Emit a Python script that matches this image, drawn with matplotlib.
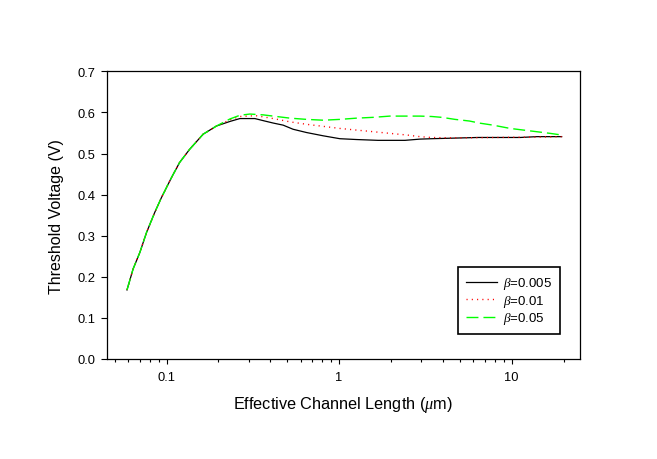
import matplotlib
matplotlib.use("Agg")
import matplotlib.pyplot as plt
from matplotlib.ticker import LogLocator, FixedLocator, NullFormatter, FixedFormatter

plt.rcParams['font.family'] = ['Liberation Sans', 'DejaVu Sans']
plt.rcParams['mathtext.fontset'] = 'custom'
plt.rcParams['mathtext.it'] = 'Liberation Serif:italic'
plt.rcParams['mathtext.rm'] = 'Liberation Sans'
plt.rcParams['lines.scale_dashes'] = False

# ---- data ----
L_005 = [0.059, 0.064, 0.070, 0.0766, 0.0855, 0.0935, 0.107, 0.119, 0.136, 0.163, 0.195,
         0.233, 0.266, 0.325, 0.371, 0.416, 0.474, 0.541, 0.648, 0.81, 1.01, 1.26, 1.68,
         2.41, 2.94, 3.45, 6.4, 11.2, 14.0, 19.5]
V_005 = [0.168, 0.219, 0.259, 0.308, 0.357, 0.393, 0.442, 0.478, 0.510, 0.547, 0.567,
         0.578, 0.585, 0.585, 0.579, 0.574, 0.569, 0.559, 0.551, 0.543, 0.536, 0.534, 0.532,
         0.532, 0.535, 0.536, 0.539, 0.539, 0.541, 0.541]

L_01 = [0.059, 0.064, 0.070, 0.0766, 0.0855, 0.0935, 0.107, 0.119, 0.136, 0.163, 0.195,
        0.233, 0.266, 0.33, 0.416, 0.52, 0.648, 0.81, 1.01, 1.26, 1.58, 1.97, 2.47,
        2.94, 3.4, 4.5, 8.0, 14.0, 19.5]
V_01 = [0.168, 0.219, 0.259, 0.308, 0.357, 0.393, 0.442, 0.478, 0.510, 0.547, 0.567,
        0.582, 0.590, 0.592, 0.585, 0.577, 0.571, 0.566, 0.561, 0.557, 0.553, 0.549, 0.545,
        0.541, 0.539, 0.538, 0.539, 0.540, 0.541]

L_05 = [0.059, 0.064, 0.070, 0.0766, 0.0855, 0.0935, 0.107, 0.119, 0.136, 0.163, 0.195,
        0.233, 0.266, 0.304, 0.363, 0.434, 0.52, 0.648, 0.81, 1.01, 1.26, 1.58, 1.97,
        2.94, 3.45, 3.93, 4.7, 5.7, 6.5, 7.8, 9.8, 11.7, 14.0, 16.7, 19.5]
V_05 = [0.168, 0.219, 0.259, 0.308, 0.357, 0.393, 0.442, 0.478, 0.510, 0.547, 0.567,
        0.584, 0.593, 0.596, 0.594, 0.590, 0.586, 0.583, 0.581, 0.583, 0.586, 0.588, 0.591,
        0.591, 0.590, 0.588, 0.583, 0.579, 0.574, 0.569, 0.561, 0.557, 0.553, 0.549, 0.545]

labels = [r'$\beta$=0.005', r'$\beta$=0.01', r'$\beta$=0.05']
x_ticks = [0.1, 1, 10]
x_ticklabels = ['0.1', '1', '10']
y_ticks = [0.0, 0.1, 0.2, 0.3, 0.4, 0.5, 0.6, 0.7]

# ---- figure ----
fig = plt.figure(figsize=(6.57, 4.60), dpi=100)
ax = fig.add_axes([106.7 / 657, 100 / 460, (580 - 106.7) / 657, (360 - 72.3) / 460])

ax.plot(L_005, V_005, color='black', lw=0.9, label=labels[0])
ax.plot(L_01, V_01, color='red', lw=1.0, dashes=(0.8, 3.0), label=labels[1])
ax.plot(L_05, V_05, color='#00ff00', lw=1.0, dashes=(8.6, 3.6), label=labels[2])

ax.set_xscale('log')
ax.set_xlim(0.045, 24.9)
ax.set_ylim(0, 0.7)

ax.xaxis.set_major_locator(FixedLocator(x_ticks))
ax.xaxis.set_major_formatter(FixedFormatter(x_ticklabels))
ax.xaxis.set_minor_locator(LogLocator(base=10, subs=[2, 3, 4, 5, 6, 7, 8, 9]))
ax.xaxis.set_minor_formatter(NullFormatter())
ax.set_yticks(y_ticks)
ax.set_yticklabels([f'{v:.1f}' for v in y_ticks])

ax.tick_params(axis='x', which='major', direction='out', length=3.4, width=0.8,
               labelsize=9.3, pad=5)
ax.tick_params(axis='x', which='minor', direction='out', length=2.3, width=0.8)
ax.tick_params(axis='y', which='major', direction='out', length=4.3, width=0.8,
               labelsize=9.3, pad=3.5)
ax.tick_params(top=False, right=False)

for s in ax.spines.values():
    s.set_linewidth(0.9)

ax.set_xlabel(r'Effective Channel Length ($\mu$m)', fontsize=11.7, labelpad=8)
ax.set_ylabel('Threshold Voltage (V)', fontsize=11.5, labelpad=10)

leg = ax.legend(loc='upper left', bbox_to_anchor=(458.3 / 657, (460 - 268.3) / 460),
                bbox_transform=fig.transFigure, fontsize=9.5, frameon=True,
                fancybox=False, framealpha=1, edgecolor='black',
                handlelength=2.3, handletextpad=0.5, labelspacing=0.12,
                borderpad=0.6, borderaxespad=0)
leg.get_frame().set_linewidth(1.2)

fig.savefig('out.png', dpi=100)
